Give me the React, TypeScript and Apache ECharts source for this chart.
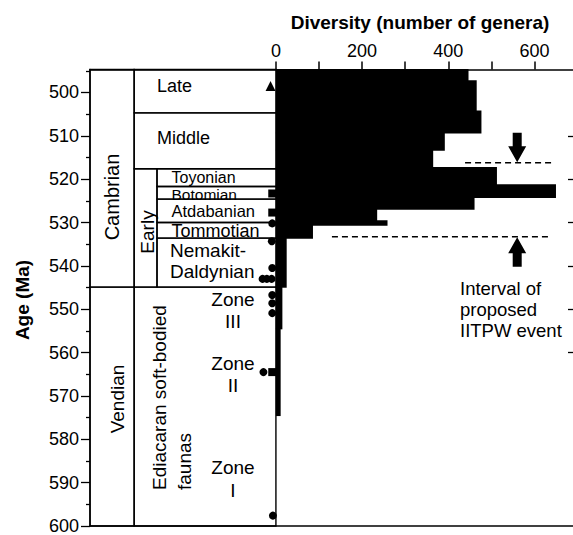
import React, { useEffect, useRef } from 'react';
import * as echarts from 'echarts';

const FONT = '"Liberation Sans", Arial, Helvetica, sans-serif';

// Diversity histogram: age bins (Ma) and number of genera
const binTop = [494.7, 497.3, 504.3, 509.3, 513.3, 517.3, 521.3, 524.2, 526.9, 529.6, 530.6, 533.6, 544.9, 554.5];
const binBase = [497.3, 504.3, 509.3, 513.3, 517.3, 521.3, 524.2, 526.9, 529.6, 530.6, 533.6, 544.9, 554.5, 574.5];
const diversity = [447, 466, 477, 392, 365, 513, 650, 461, 235, 259, 86, 25, 15, 11];

// Stratigraphic table units (ages in Ma)
const unitNames = ['Cambrian', 'Vendian', 'Late', 'Middle', 'Early', 'Toyonian', 'Botomian', 'Atdabanian', 'Tommotian', 'Nemakit-Daldynian', 'Ediacaran'];
const unitTop = [494.7, 544.9, 494.7, 504.7, 517.6, 517.6, 521.7, 524.6, 530.0, 533.6, 544.9];
const unitBase = [544.9, 600, 504.7, 517.6, 544.9, 521.7, 524.6, 530.0, 533.6, 544.9, 600];
const unitColStart = [0, 0, 1, 1, 1, 2, 2, 2, 2, 2, 1];
const unitColEnd = [1, 1, 3, 3, 2, 3, 3, 3, 3, 3, 3];
const colEdges = [-431.5, -329, -276, 0];

// Fossil occurrence markers [diversity-axis offset, age]
const triangleMarks = [[-12.5, 498.5]];
const squareMarks = [[-8.5, 523.3], [-8.5, 527.7], [-8.5, 564.5]];
const circleMarks = [
  [-8.5, 530.2], [-9.5, 534.3], [-8.5, 540.5], [-31, 543.0], [-21, 543.0], [-10, 543.0],
  [-8.5, 546.7], [-8.5, 548.6], [-8.5, 550.9], [-29, 564.5], [-7, 597.6],
];

// Interval of proposed IITPW event
const dashLines = [[439, 638.6, 516.2], [130, 638.6, 533.3]];
const arrows = [[560, 509.3, 516.1], [560, 540.2, 533.4]];

// Axis ticks
const xTicks = [0, 100, 200, 300, 400, 500, 600];
const xLabels = [0, 200, 400, 600];
const yMajor = [500, 510, 520, 530, 540, 550, 560, 570, 580, 590, 600];
const yMinor = [495, 505, 515, 525, 535, 545, 555, 565, 575, 585, 595];
const yRight = [510, 520, 530, 540, 550, 560];

export default function App() {
  const ref = useRef<HTMLDivElement>(null);
  useEffect(() => {
    const chart = echarts.init(ref.current as HTMLDivElement, null, { renderer: 'svg' });
    const X_MIN = -431.5, X_MAX = 689.5, Y_MIN = 494.7, Y_MAX = 600;
    const cellData = unitNames.map((_, i) => [colEdges[unitColStart[i]], colEdges[unitColEnd[i]], unitTop[i], unitBase[i]]);
    const barData = diversity.map((v, i) => [0, v, binTop[i], binBase[i]]);
    const black = '#000';
    const txt = (text: string, x: number, y: number, size: number, opts: any = {}) => ({
      type: 'text', x, y, rotation: opts.rotation || 0, silent: true,
      style: {
        text, fill: black, fontSize: size, fontFamily: FONT, fontWeight: opts.bold ? 'bold' : 'normal',
        align: opts.align || 'left', verticalAlign: 'middle',
        textAlign: opts.align || 'left', textVerticalAlign: 'middle',
      },
    });
    const R = Math.PI / 2;
    const option: any = {
      animation: false,
      grid: { left: 90, top: 69.5, right: -3, bottom: 9, containLabel: false },
      xAxis: [
        {
          type: 'value', position: 'top', min: X_MIN, max: X_MAX,
          axisLine: { show: true, onZero: false, lineStyle: { color: black, width: 1.5 } },
          axisTick: { show: true, inside: false, length: 8, customValues: xTicks, lineStyle: { color: black, width: 1.5 } },
          axisLabel: { show: true, customValues: xLabels, fontSize: 18, color: black, margin: 10, fontFamily: FONT },
          splitLine: { show: false },
        },
        {
          type: 'value', position: 'bottom', min: X_MIN, max: X_MAX,
          axisLine: { show: true, onZero: false, lineStyle: { color: black, width: 1.5 } },
          axisTick: { show: false }, axisLabel: { show: false }, splitLine: { show: false },
        },
      ],
      yAxis: [
        {
          type: 'value', position: 'left', inverse: true, min: Y_MIN, max: Y_MAX,
          axisLine: { show: true, onZero: false, lineStyle: { color: black, width: 1.5 } },
          axisTick: { show: true, inside: false, length: 9, customValues: yMajor, lineStyle: { color: black, width: 1.3 } },
          axisLabel: { show: true, customValues: yMajor, fontSize: 18, color: black, margin: 11, fontFamily: FONT },
          splitLine: { show: false },
        },
        {
          type: 'value', position: 'left', inverse: true, min: Y_MIN, max: Y_MAX,
          axisLine: { show: false, onZero: false },
          axisTick: { show: true, inside: false, length: 4, customValues: yMinor, lineStyle: { color: black, width: 1.3 } },
          axisLabel: { show: false }, splitLine: { show: false },
        },
        {
          type: 'value', position: 'right', inverse: true, min: Y_MIN, max: Y_MAX,
          axisLine: { show: false, onZero: false },
          axisTick: { show: true, inside: true, length: 5, customValues: yRight, lineStyle: { color: black, width: 1.3 } },
          axisLabel: { show: false }, splitLine: { show: false },
        },
      ],
      series: [
        {
          type: 'custom', xAxisIndex: 0, yAxisIndex: 0, silent: true, data: cellData,
          renderItem: (_p: any, api: any) => {
            const a = api.coord([api.value(0), api.value(2)]);
            const b = api.coord([api.value(1), api.value(3)]);
            return {
              type: 'rect', shape: { x: a[0], y: a[1], width: b[0] - a[0], height: b[1] - a[1] },
              style: { fill: 'none', stroke: black, lineWidth: 1.4 },
            };
          },
        },
        {
          type: 'custom', xAxisIndex: 0, yAxisIndex: 0, silent: true, data: barData,
          renderItem: (_p: any, api: any) => {
            const a = api.coord([api.value(0), api.value(2)]);
            const b = api.coord([api.value(1), api.value(3)]);
            return {
              type: 'rect', shape: { x: a[0], y: a[1] - 0.6, width: b[0] - a[0], height: b[1] - a[1] + 1.2 },
              style: { fill: black },
            };
          },
        },
        {
          type: 'custom', xAxisIndex: 0, yAxisIndex: 0, silent: true, data: dashLines,
          renderItem: (_p: any, api: any) => {
            const a = api.coord([api.value(0), api.value(2)]);
            const b = api.coord([api.value(1), api.value(2)]);
            return {
              type: 'line', shape: { x1: a[0], y1: a[1], x2: b[0], y2: b[1] },
              style: { stroke: black, lineWidth: 1.5, lineDash: [6, 4] },
            };
          },
        },
        {
          type: 'custom', xAxisIndex: 0, yAxisIndex: 0, silent: true, data: arrows,
          renderItem: (_p: any, api: any) => {
            const t = api.coord([api.value(0), api.value(1)]);
            const h = api.coord([api.value(0), api.value(2)]);
            const d = h[1] > t[1] ? 1 : -1;
            const hb = h[1] - d * 16;
            const x = t[0];
            return {
              type: 'polygon',
              shape: {
                points: [
                  [x - 4.5, t[1]], [x - 4.5, hb], [x - 9, hb], [x, h[1]], [x + 9, hb], [x + 4.5, hb], [x + 4.5, t[1]],
                ],
              },
              style: { fill: black },
            };
          },
        },
        {
          type: 'scatter', xAxisIndex: 0, yAxisIndex: 0, silent: true, symbol: 'triangle', symbolSize: 10,
          itemStyle: { color: black, opacity: 1 }, data: triangleMarks,
        },
        {
          type: 'scatter', xAxisIndex: 0, yAxisIndex: 0, silent: true, symbol: 'rect', symbolSize: 8,
          itemStyle: { color: black, opacity: 1 }, data: squareMarks,
        },
        {
          type: 'scatter', xAxisIndex: 0, yAxisIndex: 0, silent: true, symbol: 'circle', symbolSize: 8,
          itemStyle: { color: black, opacity: 1 }, data: circleMarks,
        },
      ],
      graphic: [
        txt('Diversity (number of genera)', 420, 22, 19, { bold: true, align: 'center' }),
        txt('Age (Ma)', 22, 300, 19, { bold: true, align: 'center', rotation: R }),
        txt('Cambrian', 112, 197, 20, { align: 'center', rotation: R }),
        txt('Vendian', 117, 399, 19, { align: 'center', rotation: R }),
        txt('Early', 147, 232, 19, { align: 'center', rotation: R }),
        txt('Ediacaran soft-bodied', 159, 490, 19, { rotation: R }),
        txt('faunas', 184, 490, 19, { rotation: R }),
        txt('Late', 157, 86, 18),
        txt('Middle', 157, 138, 18),
        txt('Toyonian', 171.5, 177, 16),
        txt('Botomian', 171.5, 194, 15.5),
        txt('Atdabanian', 171.5, 210.5, 16.5),
        txt('Tommotian', 171.5, 231, 18),
        txt('Nemakit-', 170, 250, 19),
        txt('Daldynian', 170, 271.5, 19),
        txt('Zone', 233, 299, 19, { align: 'center' }),
        txt('III', 233, 321.7, 19, { align: 'center' }),
        txt('Zone', 233, 363.3, 19, { align: 'center' }),
        txt('II', 233, 385, 19, { align: 'center' }),
        txt('Zone', 233, 467.3, 19, { align: 'center' }),
        txt('I', 233, 490, 19, { align: 'center' }),
        txt('Interval of', 460, 288.5, 18.5),
        txt('proposed', 460, 309.5, 18.5),
        txt('IITPW event', 460, 330.5, 18.5),
      ],
    };
    chart.setOption(option);
    return () => chart.dispose();
  }, []);
  return <div ref={ref} style={{ position: 'fixed', left: 0, top: 0, width: 573, height: 535, background: '#fff' }} />;
}
